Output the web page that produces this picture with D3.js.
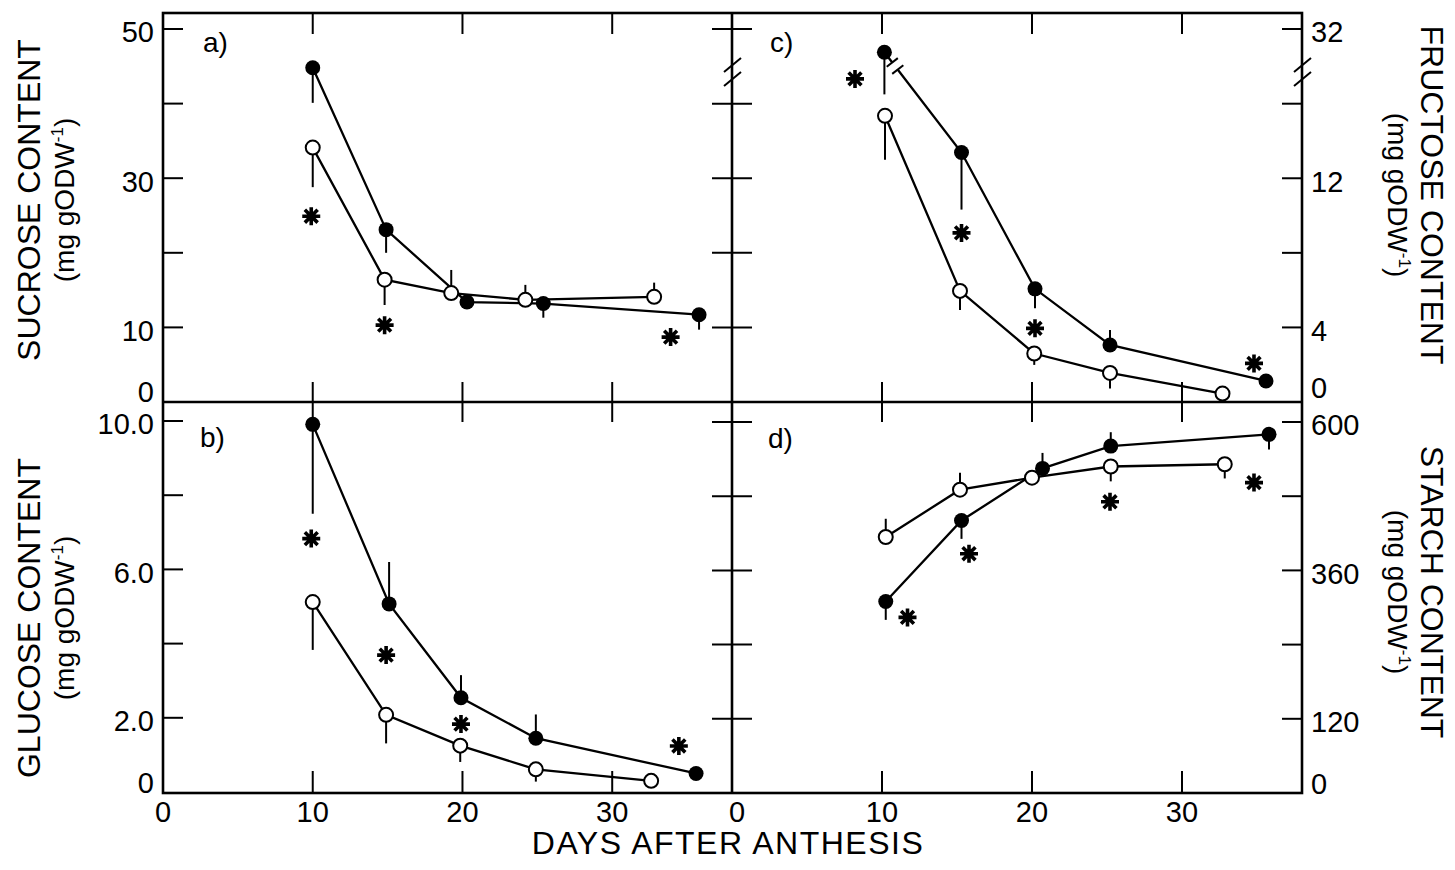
<!DOCTYPE html>
<html>
<head>
<meta charset="utf-8">
<script src="https://cdn.jsdelivr.net/npm/d3@7"></script>
<style>
	body { margin: 0; background: #fff; }
	svg text { font-family: "Liberation Sans", Arial, Helvetica, sans-serif; fill: #000; }
</style>
</head>
<body>
<script>
// values: [day, mean, end of error bar (null = none)]

// x axis
var xTicks = [10, 20, 30];
var xLabels = [0, 10, 20, 30];

// a) sucrose
var sucroseTicks = [10, 20, 30, 40, 50];
var sucroseLabels = [0, 10, 30, 50];
var sucroseFilled = [[10.0, 44.8, 40.1], [14.9, 23.1, 20.0], [20.3, 13.4, null], [25.4, 13.2, 11.3], [35.8, 11.7, 9.7]];
var sucroseOpen = [[10.0, 34.1, 28.8], [14.8, 16.4, 13.0], [19.25, 14.6, 17.7], [24.2, 13.7, 15.7], [32.8, 14.1, 16.0]];
var sucroseStars = [[9.9, 24.9], [14.8, 10.3], [33.9, 8.7]];

// b) glucose
var glucoseTicks = [2, 4, 6, 8, 10];
var glucoseLabels = [0, 2, 6, 10];
var glucoseText = ["0", "2.0", "6.0", "10.0"];
var glucoseFilled = [[10.0, 9.91, 7.5], [15.1, 5.07, 6.2], [19.9, 2.54, 3.15], [24.9, 1.45, 2.09], [35.6, 0.50, null]];
var glucoseOpen = [[10.0, 5.12, 3.83], [14.9, 2.08, 1.31], [19.85, 1.25, 0.81], [24.9, 0.61, 0.28], [32.6, 0.30, null]];
var glucoseStars = [[9.9, 6.83], [14.9, 3.69], [19.9, 1.83], [34.45, 1.24]];

// c) fructose (axis broken between 17.7 and 29.7)
var fructoseTicks = [4, 8, 12, 16, 32];
var fructoseLabels = [0, 4, 12, 32];
var fructoseFilled = [[10.16, 30.76, 16.5], [15.3, 13.38, 10.32], [20.2, 6.07, 5.03], [25.2, 3.06, 3.86], [35.6, 1.13, null]];
var fructoseOpen = [[10.2, 15.35, 13.0], [15.2, 5.96, 4.94], [20.15, 2.6, 1.99], [25.2, 1.56, 0.72], [32.7, 0.45, null]];
var fructoseStars = [[8.2, 17.33], [15.3, 9.07], [20.2, 3.95], [34.8, 2.07]];

// d) starch
var starchTicks = [120, 240, 360, 480, 600];
var starchLabels = [0, 120, 360, 600];
var starchFilled = [[10.25, 309.7, 280], [15.3, 440.7, 411], [20.7, 525, 550], [25.25, 561, 583.5], [35.8, 580, 555.7]];
var starchOpen = [[10.25, 414, 443.5], [15.2, 490.5, 518], [20.0, 510, null], [25.25, 528, 504], [32.85, 531.7, 508.7]];
var starchStars = [[11.7, 284], [15.8, 387], [25.2, 471], [34.8, 502]];

window.onload = setChart();

function setChart(){

	var width = 1455,
	height = 870;

	// frame edges
	var left = 163, mid = 732, right = 1302,
		top = 13, midY = 402, bottom = 793,
		tick = 20;

	var svg = d3.select("body")
		.append("svg")
		.attr("width", width)
		.attr("height", height);

	// x scales for left and right columns
	var xLeft = d3.scaleLinear().domain([0, 38]).range([left, mid]);
	var xRight = d3.scaleLinear().domain([0, 38]).range([mid, right]);

	// y scales
	var ySucrose = d3.scaleLinear().domain([0, 50]).range([midY, 29]);
	var yGlucose = d3.scaleLinear().domain([0, 10]).range([792, 421]);
	var yFructose = d3.scaleLinear().domain([0, 17.7, 29.7, 32]).range([midY, 72, 72, 29]);
	var yStarch = d3.scaleLinear().domain([0, 600]).range([bottom, 422]);

	var g = svg.append("g").attr("stroke", "#000").attr("fill", "none");

	// frame
	g.append("rect")
		.attr("x", left).attr("y", top)
		.attr("width", right - left).attr("height", bottom - top)
		.attr("stroke-width", 2.6);
	g.append("line").attr("x1", left).attr("x2", right).attr("y1", midY).attr("y2", midY).attr("stroke-width", 2.6);
	g.append("line").attr("x1", mid).attr("x2", mid).attr("y1", top).attr("y2", bottom).attr("stroke-width", 2.6);

	// x ticks on top, middle and bottom lines
	[xLeft, xRight].forEach(function(x){
		g.selectAll(null).data(xTicks).enter().append("line")
			.attr("x1", x).attr("x2", x)
			.attr("y1", top).attr("y2", top + tick + 1)
			.attr("stroke-width", 2);
		g.selectAll(null).data(xTicks).enter().append("line")
			.attr("x1", x).attr("x2", x)
			.attr("y1", midY - tick).attr("y2", midY + tick)
			.attr("stroke-width", 2);
		g.selectAll(null).data(xTicks).enter().append("line")
			.attr("x1", x).attr("x2", x)
			.attr("y1", bottom - tick - 2).attr("y2", bottom)
			.attr("stroke-width", 2);
	});

	// y ticks: left axis inward, middle crossing, right axis inward
	function yTicks(vals, y, x1, x2){
		g.selectAll(null).data(vals).enter().append("line")
			.attr("x1", x1).attr("x2", x2)
			.attr("y1", y).attr("y2", y)
			.attr("stroke-width", 2);
	}
	yTicks(sucroseTicks, ySucrose, left, left + tick);
	yTicks(glucoseTicks, yGlucose, left, left + tick);
	yTicks(fructoseTicks, yFructose, mid - tick, mid + tick);
	yTicks(starchTicks, yStarch, mid - tick, mid + tick);
	yTicks(fructoseTicks, yFructose, right - tick, right);
	yTicks(starchTicks, yStarch, right - tick, right);

	// axis break marks on fructose axis
	var yb = yFructose(17.7);
	[mid, right].forEach(function(ax){
		[-7, 7].forEach(function(off){
			g.append("line")
				.attr("x1", ax - 8).attr("y1", yb + off + 7)
				.attr("x2", ax + 9).attr("y2", yb + off - 7)
				.attr("stroke-width", 2);
		});
	});

	// tick labels
	var tl = svg.append("g").attr("font-size", 29);

	function xLab(x, dx){
		tl.selectAll(null).data(xLabels).enter().append("text")
			.attr("x", function(d){ return x(d) + (d === 0 ? dx : 0); })
			.attr("y", 822)
			.attr("text-anchor", "middle")
			.text(function(d){ return d; });
	}
	xLab(xLeft, 0);
	xLab(xRight, 5);

	function yLab(vals, texts, y, x, anchor, zeroShift){
		tl.selectAll(null).data(vals).enter().append("text")
			.attr("x", x)
			.attr("y", function(d){ return y(d) + (d === 0 ? zeroShift : 3); })
			.attr("dy", "0.36em")
			.attr("text-anchor", anchor)
			.text(function(d, i){ return texts ? texts[i] : d; });
	}
	yLab(sucroseLabels, null, ySucrose, 154, "end", -10);
	yLab(glucoseLabels, glucoseText, yGlucose, 154, "end", -9);
	yLab(fructoseLabels, null, yFructose, 1311, "start", -14);
	yLab(starchLabels, null, yStarch, 1311, "start", -9);

	// panel letters
	var letters = [["a)", 203, 52], ["b)", 200, 447], ["c)", 770, 52], ["d)", 768, 448]];
	svg.selectAll(null).data(letters).enter().append("text")
		.attr("x", function(d){ return d[1]; })
		.attr("y", function(d){ return d[2]; })
		.attr("font-size", 28)
		.text(function(d){ return d[0]; });

	// axis titles
	function title(main, cx, cy, rot, bx, px){
		var t = svg.append("g").attr("transform", "translate(" + cx + "," + cy + ") rotate(" + rot + ")");
		t.append("text")
			.attr("x", 0).attr("y", bx)
			.attr("text-anchor", "middle")
			.attr("font-size", 32)
			.text(main);
		var u = t.append("text")
			.attr("x", 0).attr("y", px)
			.attr("text-anchor", "middle")
			.attr("font-size", 28);
		u.append("tspan").text("(mg gODW");
		u.append("tspan").attr("font-size", 17).attr("dy", -11).text("-1");
		u.append("tspan").attr("dy", 11).text(")");
	}
	title("SUCROSE CONTENT", 0, 200, -90, 40, 74);
	title("GLUCOSE CONTENT", 0, 618, -90, 40, 74);
	title("FRUCTOSE CONTENT", 1455, 195, 90, 34, 67);
	title("STARCH CONTENT", 1455, 592, 90, 34, 67);

	svg.append("text")
		.attr("x", 728).attr("y", 854)
		.attr("text-anchor", "middle")
		.attr("font-size", 32)
		.attr("letter-spacing", 1.5)
		.text("DAYS AFTER ANTHESIS");

	// data panels
	function panel(x, y, filled, open, stars){
		var p = svg.append("g");
		var line = d3.line()
			.x(function(d){ return x(d[0]); })
			.y(function(d){ return y(d[1]); });

		[filled, open].forEach(function(s){
			p.append("path")
				.datum(s)
				.attr("d", line)
				.attr("fill", "none")
				.attr("stroke", "#000")
				.attr("stroke-width", 2.3);
		});

		// one-sided error bars
		p.selectAll(null).data(filled.concat(open).filter(function(d){ return d[2] != null; }))
			.enter().append("line")
			.attr("x1", function(d){ return x(d[0]); })
			.attr("x2", function(d){ return x(d[0]); })
			.attr("y1", function(d){ return y(d[1]); })
			.attr("y2", function(d){ return y(d[2]); })
			.attr("stroke", "#000")
			.attr("stroke-width", 2);

		p.selectAll(null).data(open).enter().append("circle")
			.attr("cx", function(d){ return x(d[0]); })
			.attr("cy", function(d){ return y(d[1]); })
			.attr("r", 7)
			.attr("fill", "#fff")
			.attr("stroke", "#000")
			.attr("stroke-width", 2);

		p.selectAll(null).data(filled).enter().append("circle")
			.attr("cx", function(d){ return x(d[0]); })
			.attr("cy", function(d){ return y(d[1]); })
			.attr("r", 7.5)
			.attr("fill", "#000");

		// asterisks
		var star = "M-9,0L9,0M0,-9L0,9M-6.4,-6.4L6.4,6.4M-6.4,6.4L6.4,-6.4";
		p.selectAll(null).data(stars).enter().append("path")
			.attr("transform", function(d){ return "translate(" + x(d[0]) + "," + y(d[1]) + ")"; })
			.attr("d", star)
			.attr("stroke", "#000")
			.attr("stroke-width", 3.6);
		return p;
	}

	panel(xLeft, ySucrose, sucroseFilled, sucroseOpen, sucroseStars);
	panel(xLeft, yGlucose, glucoseFilled, glucoseOpen, glucoseStars);
	var pc = panel(xRight, yFructose, fructoseFilled, fructoseOpen, fructoseStars);
	panel(xRight, yStarch, starchFilled, starchOpen, starchStars);

	// break on the fructose line where it crosses the axis break
	var a = fructoseFilled[0], b = fructoseFilled[1];
	var x0 = xRight(a[0]), y0 = yFructose(a[1]), x1 = xRight(b[0]), y1 = yFructose(b[1]);
	var len = Math.hypot(x1 - x0, y1 - y0),
		ux = (x1 - x0) / len, uy = (y1 - y0) / len,
		t = (yb - 6 - y0) / (y1 - y0),
		cx = x0 + t * (x1 - x0), cy = y0 + t * (y1 - y0);
	pc.append("line")
		.attr("x1", cx - ux * 4).attr("y1", cy - uy * 4)
		.attr("x2", cx + ux * 4).attr("y2", cy + uy * 4)
		.attr("stroke", "#fff").attr("stroke-width", 5);
	[-4.5, 4.5].forEach(function(o){
		var mx = cx + ux * o, my = cy + uy * o;
		pc.append("line")
			.attr("x1", mx + uy * 7).attr("y1", my - ux * 7)
			.attr("x2", mx - uy * 7).attr("y2", my + ux * 7)
			.attr("stroke", "#000").attr("stroke-width", 2);
	});
};
</script>
</body>
</html>
